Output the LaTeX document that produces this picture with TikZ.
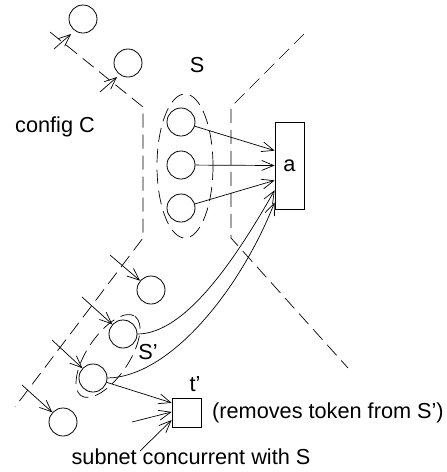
\documentclass[tikz,border=0pt]{standalone}
\usepackage{fontspec}
\setmainfont{Liberation Sans}
\usetikzlibrary{arrows.meta}
\begin{document}
\begin{tikzpicture}[x=1pt,y=-1pt,
  place/.style={draw, circle, minimum size=28pt, inner sep=0pt, line width=0.8pt},
  trans/.style={draw, rectangle, inner sep=0pt, line width=0.8pt, font=\fontsize{21.7}{24}\selectfont},
  arc/.style={line width=0.7pt, -{Straight Barb[length=12pt,width=10pt]}},
  bound/.style={line width=0.7pt, dash pattern=on 14pt off 7pt},
  lbl/.style={font=\fontsize{21.7}{24}\selectfont, inner sep=0pt}]
\useasboundingbox (0,0) rectangle (447,472);
% places
\node[place] (p1) at (83,19) {};
\node[place] (p2) at (128,63) {};
\node[place] (s1) at (181,122) {};
\node[place] (s2) at (181,165) {};
\node[place] (s3) at (181,208) {};
\node[place] (q1) at (151,290) {};
\node[place] (q2) at (123,334) {};
\node[place] (q3) at (93,378) {};
\node[place] (q4) at (63,422) {};
% transitions
\node[trans, minimum width=29pt, minimum height=87pt] (a) at (289.5,165.5) {a};
\node[trans, minimum width=29pt, minimum height=29pt] (t) at (186.5,412.5) {};
% boundaries
\draw[bound] (50,32) -- (143,107) -- (143,238) -- (15,407);
\draw[bound] (304,34) -- (231,107) -- (231,238) -- (348,368);
% sets
\draw[bound] (185,166) ellipse [x radius=28, y radius=72];
\draw[bound, rotate around={56:(108,356)}] (108,356) ellipse [x radius=48, y radius=21];
% free ends
\coordinate (e1) at (54,49);
\coordinate (f1) at (71,34);
\coordinate (e2) at (100,92);
\coordinate (f2) at (117,77);
\coordinate (i1) at (110,255);
\coordinate (i2) at (82,297);
\coordinate (i3) at (52,340);
\coordinate (i4) at (22,385);
\coordinate (j1) at (132,422);
\coordinate (j2) at (140,451);
% arcs
\draw[arc] (e1) -- (f1);
\draw[arc] (e2) -- (f2);
\draw[arc] (s1) -- (a.135);
\draw[arc] (s2) -- (a.west);
\draw[arc] (s3) -- (a.225);
\draw[arc] (q2.east) .. controls (185,334) and (235,260) .. (a.239);
\draw[arc] (q3.east) .. controls (170,377) and (240,290) .. (a.248);
\draw[arc] (i1) -- (q1);
\draw[arc] (i2) -- (q2);
\draw[arc] (i3) -- (q3);
\draw[arc] (i4) -- (q4);
\draw[arc] (q3) -- (t.147);
\draw[arc] (j1) -- (t.178);
\draw[arc] (j2) -- (t.207);
% labels
\node[lbl] at (197,65) {S};
\node[lbl] at (55,127) {config C};
\node[lbl] at (148,352) {S’};
\node[lbl] at (195,384) {t’};
\node[lbl, anchor=west] at (212,413) {(removes token from S’)};
\node[lbl] at (191,457) {subnet concurrent with S};
\end{tikzpicture}
\end{document}
